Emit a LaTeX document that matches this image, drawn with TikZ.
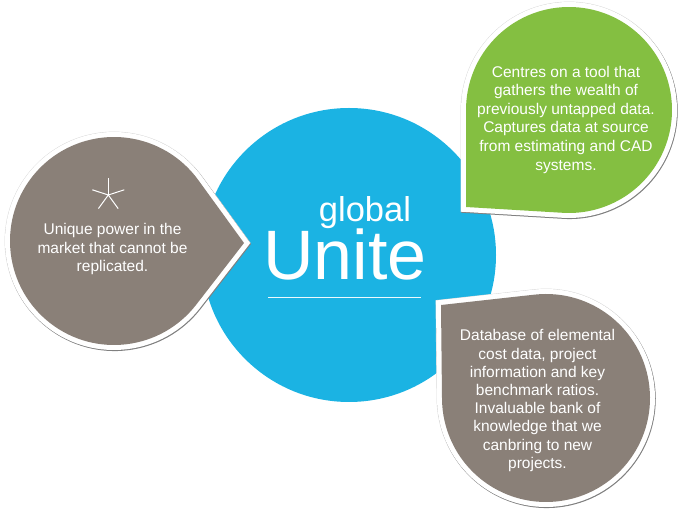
\documentclass[tikz,border=0pt]{standalone}
\usepackage{fontspec}
\setmainfont{Liberation Sans}
\usetikzlibrary{calc}
\definecolor{uniteblue}{HTML}{1BB3E3}
\definecolor{leafgreen}{HTML}{84BF41}
\definecolor{stonegray}{HTML}{8A8078}
\begin{document}
\begin{tikzpicture}[x=1pt,y=-1pt,
  blob/.style={fill=#1,
    preaction={draw=black!16, line width=10.8pt},
    preaction={draw=black!50, line width=10.3pt, transform canvas={shift={(0.6,0.9)}}},
    preaction={draw=white, line width=10pt}},
  bodytext/.style={text=white, align=center, inner sep=0pt},
  titletext/.style={text=white, inner sep=0pt, anchor=base}]
\useasboundingbox (0,0) rectangle (680,510);

% central disc
\node[circle, fill=uniteblue, minimum size=294pt, inner sep=0pt, outer sep=0pt] (hub) at (349,255) {};

% left drop, pointing at the disc
\coordinate (lc) at (114,241);
\coordinate (ltip) at (244,243);
\path[blob=stonegray] (ltip) -- ($(lc)+(37.8:104)$)
  arc[start angle=37.8, end angle=324, radius=104] -- cycle;

% upper right drop, corner at lower left
\coordinate (gc) at (569,110);
\coordinate (gtip) at (466,207);
\path[blob=leafgreen] (gtip) -- ($(gc)+(179.4:103)$)
  arc[start angle=179.4, end angle=453.4, radius=103] -- cycle;

% lower right drop, corner at upper left
\coordinate (bc) at (546,398);
\coordinate (btip) at (441,305);
\path[blob=stonegray] (btip) -- ($(bc)+(263.7:104)$)
  arc[start angle=263.7, end angle=539.3, radius=104] -- cycle;

% asterisk
\coordinate (ast) at (108.3,195);
\foreach \a in {-90,-18,54,126,198}
  \draw[white, line width=1pt] (ast) -- ++(\a:16.8);

% texts
\node[bodytext, font=\fontsize{15.5}{18.8}\selectfont] (lefttxt) at (112.5,249)
  {Unique power in the\\market that cannot be\\replicated.};
\node[bodytext, font=\fontsize{15.5}{18.6}\selectfont] (greentxt) at (566,119.6)
  {Centres on a tool that\\gathers the wealth of\\previously untapped data.\\Captures data at source\\from estimating and CAD\\systems.};
\node[bodytext, font=\fontsize{15.5}{18.2}\selectfont] (graytxt) at (537.5,400.6)
  {Database of elemental\\cost data, project\\information and key\\benchmark ratios.\\Invaluable bank of\\knowledge that we\\canbring to new\\projects.};

% title
\node[titletext, font=\fontsize{34.5}{40}\selectfont] (glob) at (365,221.6) {global};
\node[titletext, font=\fontsize{70}{80}\selectfont] (unite) at (345,279.5) {Unite};
\coordinate (rulea) at (268.3,297.7);
\coordinate (ruleb) at (420.7,297.7);
\draw[white!92!uniteblue, line width=1.2pt] (rulea) -- (ruleb);
\end{tikzpicture}
\end{document}
